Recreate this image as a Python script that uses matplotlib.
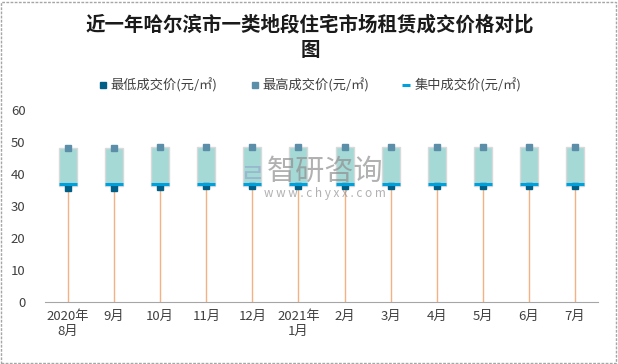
import matplotlib
matplotlib.use('Agg')
import matplotlib.pyplot as plt
from matplotlib.patches import Rectangle
from matplotlib.lines import Line2D

plt.rcParams['font.family'] = ['Noto Sans CJK SC', 'DejaVu Sans']

months = ['2020年\n8月', '9月', '10月', '11月', '12月', '2021年\n1月',
          '2月', '3月', '4月', '5月', '6月', '7月']
low_price = [35.7, 35.7, 35.8, 36.3, 36.2, 36.3, 36.4, 36.4, 36.4, 36.4, 36.4, 36.4]
high_price = [48.0, 48.0, 48.3, 48.3, 48.3, 48.3, 48.3, 48.3, 48.3, 48.3, 48.3, 48.3]
mid_price = [36.8, 36.8, 36.8, 36.8, 36.8, 36.8, 36.8, 36.8, 36.8, 36.8, 36.8, 36.8]
names = ['最低成交价(元/㎡)', '最高成交价(元/㎡)', '集中成交价(元/㎡)']

c_low = '#005f86'
c_high = '#5b8fa9'
c_mid = '#00a0dc'
c_box = '#a5d9d6'
c_line = '#f4b183'

fig = plt.figure(figsize=(6.18, 3.64), dpi=100)
ax = fig.add_axes([45 / 618, 62 / 364, 553 / 618, 192 / 364])

x = list(range(len(months)))

# orange lines from axis up to the lowest price
ax.vlines(x, 0, low_price, color=c_line, lw=1, zorder=1)

# boxes between concentrated and highest price
for i in x:
    ax.add_patch(Rectangle((i - 0.195, mid_price[i] - 0.5), 0.39,
                           high_price[i] - mid_price[i] + 0.5,
                           facecolor=c_box, edgecolor='#d9d9d9', lw=1, zorder=2))

ax.plot(x, low_price, ls='none', marker='s', ms=5, color=c_low, zorder=3)
ax.plot(x, high_price, ls='none', marker='s', ms=5, color=c_high, zorder=5)
ax.plot(x, mid_price, ls='none', marker='_', ms=13, mew=2.2, color=c_mid, zorder=4)

handles = [Line2D([], [], ls='none', marker='s', ms=5, color=c_low),
           Line2D([], [], ls='none', marker='s', ms=5, color=c_high),
           Line2D([], [], ls='none', marker='_', ms=6, mew=2.2, color=c_mid)]

ax.set_xlim(-0.5, len(months) - 0.5)
ax.set_ylim(0, 60)
ax.set_yticks(range(0, 61, 10))
ax.set_xticks(x)
ax.set_xticklabels(months, fontsize=9.5, color='#404040')
ax.tick_params(axis='y', labelsize=9.5, labelcolor='#404040', length=0, pad=14)
ax.tick_params(axis='x', length=0, pad=6)
for s in ['top', 'right', 'left']:
    ax.spines[s].set_visible(False)
ax.spines['bottom'].set_color('#a6a6a6')

fig.text(310 / 618, 1 - 25 / 364, '近一年哈尔滨市一类地段住宅市场租赁成交价格对比',
         ha='center', va='center', fontsize=14, fontweight='bold', color='#1a1a1a')
fig.text(310 / 618, 1 - 50 / 364, '图',
         ha='center', va='center', fontsize=14, fontweight='bold', color='#1a1a1a')

leg = fig.legend(handles, names, loc='center', bbox_to_anchor=(310 / 618, 1 - 85 / 364),
                 ncol=3, frameon=False, fontsize=9.5, handlelength=0.6,
                 handletextpad=0.3, columnspacing=2.5)
for t in leg.get_texts():
    t.set_color('#404040')

# watermark
fig.text(325 / 618, 1 - 172 / 364, '智研咨询', ha='center', va='center',
         fontsize=21, color='#909090', alpha=0.7, zorder=10)
fig.text(325 / 618, 1 - 194 / 364, 'w w w . c h y x x . c o m', ha='center', va='center',
         fontsize=8.5, color='#909090', alpha=0.7, zorder=10)
fig.text(252 / 618, 1 - 175 / 364, 'ㄹ', ha='center', va='center',
         fontsize=20, color='#8fa3c8', alpha=0.6, zorder=10)

fig.add_artist(Rectangle((0.002, 0.003), 0.994, 0.992, transform=fig.transFigure,
                         fill=False, edgecolor='#a6a6a6', lw=1, ls=(0, (2, 1))))

fig.savefig('out.png', dpi=100)
